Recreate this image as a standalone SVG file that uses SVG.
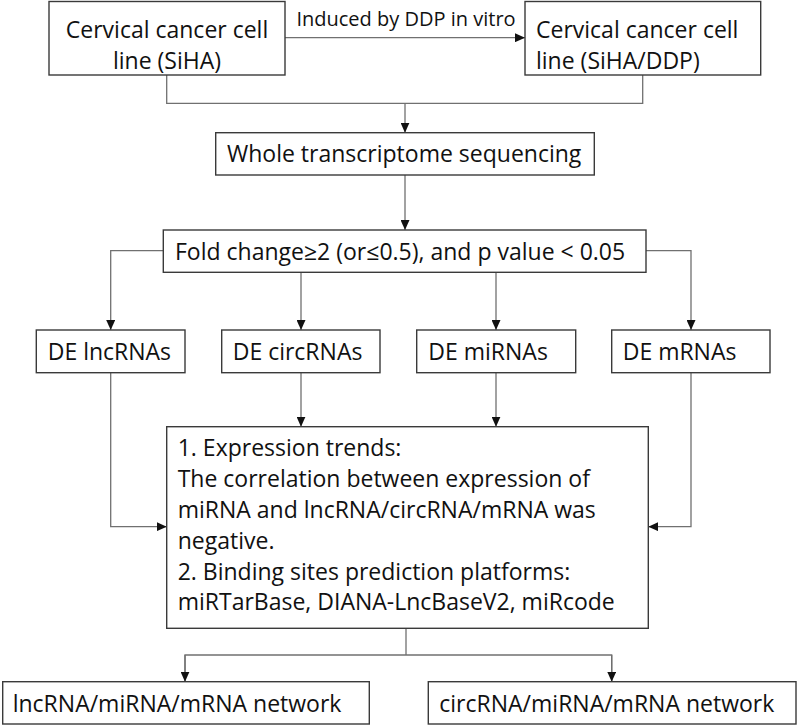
<svg xmlns="http://www.w3.org/2000/svg" width="797" height="726" viewBox="0 0 797 726">
<style>
.box{fill:#fff;stroke:#3a3a3a;stroke-width:1.4}
.t{font-family:"Open Sans","Liberation Sans",sans-serif;font-size:23px;fill:#111}
.s{font-family:"Open Sans","Liberation Sans",sans-serif;font-size:20px;fill:#111}
.c{fill:none;stroke:#707070;stroke-width:1.3}
</style>
<defs>
<marker id="ah" markerUnits="userSpaceOnUse" markerWidth="10" markerHeight="9" refX="10" refY="4.5" orient="auto">
<path d="M0,0 L10,4.5 L0,9 z" fill="#111"/>
</marker>
</defs>
<rect width="797" height="726" fill="#fff"/>
<g id="connectors">
<path class="c" d="M285,37.7 H525" marker-end="url(#ah)"/>
<path class="c" d="M166.7,75 V103.3 H642.7 V75"/>
<path class="c" d="M405,103.3 V132.7" marker-end="url(#ah)"/>
<path class="c" d="M405,175 V230" marker-end="url(#ah)"/>
<path class="c" d="M163.3,250.7 H110.7 V330" marker-end="url(#ah)"/>
<path class="c" d="M301,272.3 V330" marker-end="url(#ah)"/>
<path class="c" d="M496,272.3 V330" marker-end="url(#ah)"/>
<path class="c" d="M646,250.7 H691 V330" marker-end="url(#ah)"/>
<path class="c" d="M110.7,372.7 V526.7 H166.7" marker-end="url(#ah)"/>
<path class="c" d="M301,372.7 V426.7" marker-end="url(#ah)"/>
<path class="c" d="M496,372.7 V426.7" marker-end="url(#ah)"/>
<path class="c" d="M691,372.7 V526.7 H648.3" marker-end="url(#ah)"/>
<path class="c" d="M406,628.3 V655"/>
<path class="c" d="M185,681.7 V655 H611.7 V681.7"/>
<path class="c" d="M185,655 V681.7" marker-end="url(#ah)"/>
<path class="c" d="M611.7,655 V681.7" marker-end="url(#ah)"/>
<text class="s" x="406" y="26" text-anchor="middle">Induced by DDP in vitro</text>
</g>
<g id="siha">
<rect class="box" x="49" y="1.5" width="236" height="73.5"/>
<text class="t" x="167" y="38" text-anchor="middle">Cervical cancer cell</text>
<text class="t" x="167" y="69" text-anchor="middle">line (SiHA)</text>
</g>
<g id="siha-ddp">
<rect class="box" x="525" y="1.5" width="235.7" height="73.5"/>
<text class="t" x="536" y="38">Cervical cancer cell</text>
<text class="t" x="536" y="69">line (SiHA/DDP)</text>
</g>
<g id="sequencing">
<rect class="box" x="215.7" y="132.7" width="378.6" height="42.3"/>
<text class="t" x="227" y="162">Whole transcriptome sequencing</text>
</g>
<g id="filter">
<rect class="box" x="163.3" y="230" width="482.7" height="42.3"/>
<text class="t" x="175" y="260">Fold change≥2 (or≤0.5), and p value &lt; 0.05</text>
</g>
<g id="de-lncrnas">
<rect class="box" x="36.3" y="330" width="148.7" height="42.7"/>
<text class="t" x="47.7" y="360">DE lncRNAs</text>
</g>
<g id="de-circrnas">
<rect class="box" x="221.7" y="330" width="158.3" height="42.7"/>
<text class="t" x="232.7" y="360">DE circRNAs</text>
</g>
<g id="de-mirnas">
<rect class="box" x="416.7" y="330" width="159" height="42.7"/>
<text class="t" x="428.3" y="360">DE miRNAs</text>
</g>
<g id="de-mrnas">
<rect class="box" x="611.7" y="330" width="158.3" height="42.7"/>
<text class="t" x="622.7" y="360">DE mRNAs</text>
</g>
<g id="criteria">
<rect class="box" x="166.7" y="426.7" width="481.6" height="201.6"/>
<text class="t" x="177.7" y="456">1. Expression trends:</text>
<text class="t" x="177.7" y="487">The correlation between expression of</text>
<text class="t" x="177.7" y="518">miRNA and lncRNA/circRNA/mRNA was</text>
<text class="t" x="177.7" y="548.5">negative.</text>
<text class="t" x="177.7" y="579.5">2. Binding sites prediction platforms:</text>
<text class="t" x="177.7" y="610">miRTarBase, DIANA-LncBaseV2, miRcode</text>
</g>
<g id="lnc-network">
<rect class="box" x="2.7" y="681.7" width="366.6" height="42.3"/>
<text class="t" x="12.7" y="712">lncRNA/miRNA/mRNA network</text>
</g>
<g id="circ-network">
<rect class="box" x="428.3" y="681.7" width="367.7" height="42.3"/>
<text class="t" x="439.3" y="712">circRNA/miRNA/mRNA network</text>
</g>
</svg>
